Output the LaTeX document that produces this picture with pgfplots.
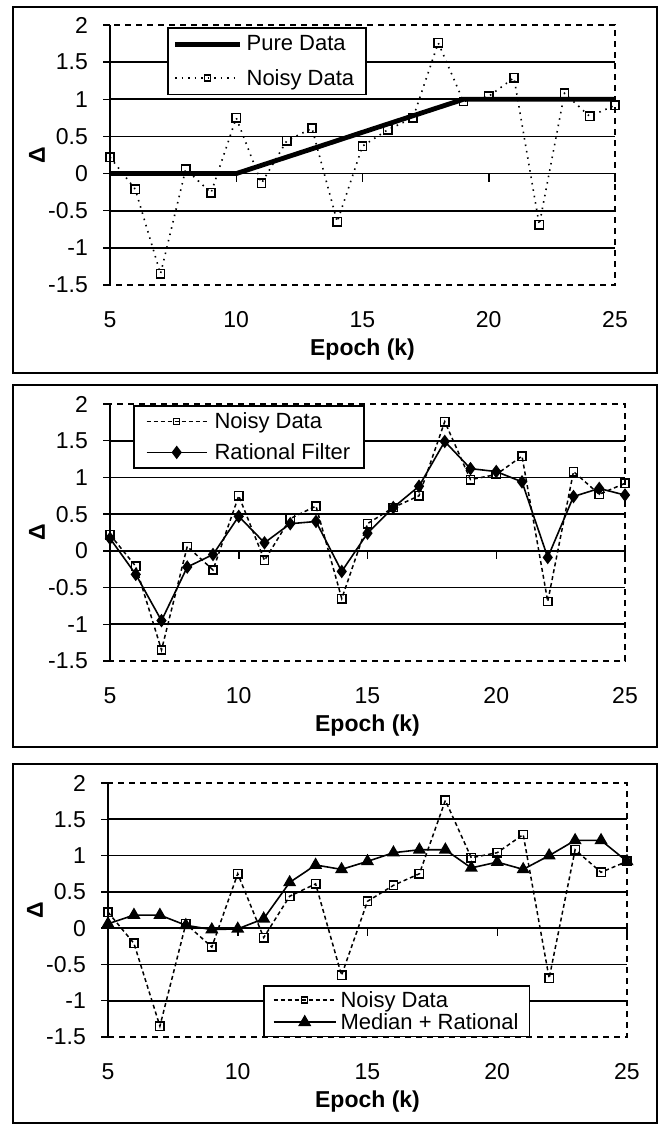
\documentclass[border=0pt]{standalone}
\usepackage{fontspec}
\setmainfont{Liberation Sans}
\usepackage{pgfplots}
\usepackage{pgfplotstable}
\pgfplotsset{compat=1.18}

\pgfplotstableread{
x noisy pure rational median
5 0.22 0 0.17 0.06
6 -0.21 0 -0.32 0.18
7 -1.35 0 -0.95 0.18
8 0.06 0 -0.22 0.04
9 -0.26 0 -0.05 -0.02
10 0.75 0 0.47 -0.01
11 -0.13 0.111 0.11 0.13
12 0.44 0.222 0.37 0.63
13 0.61 0.333 0.40 0.87
14 -0.65 0.444 -0.28 0.81
15 0.37 0.556 0.24 0.92
16 0.59 0.667 0.59 1.04
17 0.75 0.778 0.88 1.08
18 1.76 0.889 1.49 1.08
19 0.97 1 1.12 0.83
20 1.04 1 1.08 0.91
21 1.29 1 0.94 0.81
22 -0.69 1 -0.09 1.00
23 1.08 1 0.74 1.21
24 0.77 1 0.85 1.21
25 0.92 1 0.76 0.92
}\datatable

\newcommand\decor{%
  \pgfplotsinvokeforeach{-1,-0.5,0,0.5,1,1.5}{\draw[line width=1.7pt] (axis cs:5,##1) -- (axis cs:25,##1);}
  \pgfplotsinvokeforeach{5,10,15,20,25}{\draw[line width=1.5pt] (axis cs:##1,0) -- ([yshift=-8pt]axis cs:##1,0);}
  \pgfplotsinvokeforeach{-1.5,-1,-0.5,0,0.5,1,1.5,2}{\draw[line width=1.5pt] (axis cs:5,##1) -- ([xshift=-7pt]axis cs:5,##1);}
  \draw[line width=1.7pt] (axis cs:5,-1.5) -- (axis cs:5,2);
}

\pgfplotsset{
  panel/.style={
    scale only axis,
    xmin=5, xmax=25, ymin=-1.5, ymax=2,
    xtick={5,10,15,20,25}, xticklabels={5,10,15,20,25},
    ytick={-1.5,-1,-0.5,0,0.5,1,1.5,2},
    yticklabels={-1.5,-1,-0.5,0,0.5,1,1.5,2},
    major tick length=0pt,
    axis line style={line width=1.5pt, dash pattern=on 6pt off 5pt},
    tick label style={font=\fontsize{23}{27}\selectfont, inner sep=0pt},
    xticklabel style={anchor=center},
    xticklabel shift=35pt,
    yticklabel style={anchor=east},
    yticklabel shift=22pt,
    xlabel={\textbf{Epoch (k)}},
    ylabel={\textbf{Δ}},
    label style={font=\fontsize{23}{27}\selectfont, inner sep=0pt},
    xlabel style={at={([yshift=-65pt]axis description cs:0.5,0)}, anchor=center},
    ylabel style={at={([xshift=-73pt]axis description cs:0,0.5)}, anchor=center},
    clip=false,
    legend cell align=left,
    legend style={draw=black, line width=1.5pt, fill=white,
      font=\fontsize{22}{26}\selectfont, nodes={inner sep=2pt, text depth=0.15em}},
  },
  noisy1/.style={black, line width=1.6pt, dash pattern=on 1.5pt off 5pt,
    mark=square, mark size=4.2pt, mark options={solid, fill=white, line width=1.5pt}},
  noisy/.style={black, line width=1.5pt, dash pattern=on 4pt off 3pt,
    mark=square, mark size=4.2pt, mark options={solid, fill=white, line width=1.5pt}},
}

\begin{document}
\begin{tikzpicture}
\path[use as bounding box] (0pt,0pt) rectangle (665pt,-1125pt);
\draw[line width=1.7pt] (13pt,-7pt) rectangle (657pt,-373pt);
\draw[line width=1.7pt] (13pt,-385pt) rectangle (657pt,-747pt);
\draw[line width=1.7pt] (13pt,-764pt) rectangle (657pt,-1123pt);

% Panel 1
\begin{axis}[panel, at={(110pt,-285pt)}, anchor=south west, width=505pt, height=260pt,
  legend style={at={(axis description cs:0.113,0.992)}, anchor=north west,
    inner xsep=5pt, inner ysep=6pt, row sep=12.7pt, column sep=2pt,
    legend image code/.code={\draw[mark repeat=2,mark phase=2,#1] plot coordinates {(0pt,0pt) (32pt,0pt) (65pt,0pt)};}}]
\decor
\addplot[black, line width=4.8pt, no marks] table[x=x, y=pure] {\datatable};
\addlegendentry{Pure Data}
\addplot[noisy1, forget plot] table[x=x, y=noisy] {\datatable};
\addlegendimage{black, line width=1.6pt, dash pattern=on 1.5pt off 5pt, mark=square, mark size=3pt, mark options={solid, fill=white, line width=1.4pt}}
\addlegendentry{Noisy Data\hspace*{5pt}}
\end{axis}

% Panel 2
\begin{axis}[panel, at={(110pt,-661pt)}, anchor=south west, width=515pt, height=257pt,
  legend style={at={(axis description cs:0.045,0.996)}, anchor=north west,
    inner xsep=12pt, inner ysep=4.8pt, row sep=9.7pt, column sep=5pt,
    legend image code/.code={\draw[mark repeat=2,mark phase=2,#1] plot coordinates {(0pt,0pt) (30pt,0pt) (60pt,0pt)};}}]
\decor
\addplot[noisy, forget plot] table[x=x, y=noisy] {\datatable};
\addlegendimage{black, line width=1.5pt, dash pattern=on 4pt off 3pt, mark=square, mark size=3pt, mark options={solid, fill=white, line width=1.4pt}}
\addlegendentry{Noisy Data}
\addplot[black, line width=1.6pt, mark=diamond*, mark size=5.5pt, mark options={solid, fill=black}] table[x=x, y=rational] {\datatable};
\addlegendentry{Rational Filter}
\end{axis}

% Panel 3
\begin{axis}[panel, at={(108pt,-1037pt)}, anchor=south west, width=519pt, height=254pt,
  legend style={at={(axis description cs:0.299,0)}, anchor=south west,
    inner xsep=9pt, inner ysep=3.3pt, row sep=0.7pt, column sep=2pt,
    legend image code/.code={\draw[mark repeat=2,mark phase=2,#1] plot coordinates {(0pt,0pt) (31pt,0pt) (62pt,0pt)};}}]
\decor
\addplot[noisy, forget plot] table[x=x, y=noisy] {\datatable};
\addlegendimage{black, line width=1.5pt, dash pattern=on 4pt off 3pt, mark=square, mark size=3pt, mark options={solid, fill=white, line width=1.4pt}}
\addlegendentry{Noisy Data}
\addplot[black, line width=1.6pt, mark=triangle*, mark size=6pt, mark options={solid, fill=black}] table[x=x, y=median] {\datatable};
\addlegendentry{Median + Rational}
\end{axis}
\end{tikzpicture}
\end{document}
